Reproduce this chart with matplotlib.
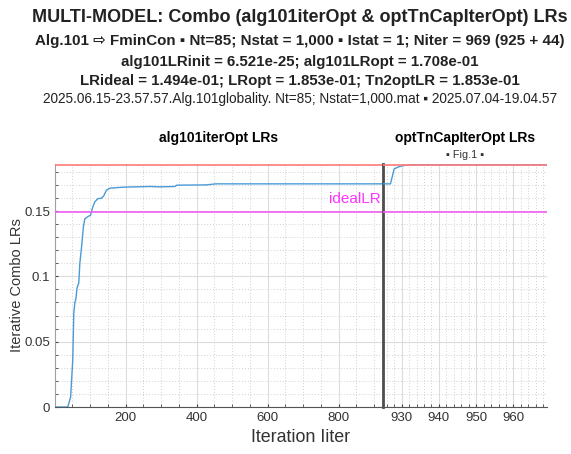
import matplotlib
matplotlib.use("Agg")
import matplotlib.pyplot as plt
from matplotlib.ticker import MultipleLocator

plt.rcParams['font.family'] = ['Liberation Sans', 'DejaVu Sans']

# combined LR trace, first optimiser (alg101iterOpt), iterations 1..925
iter_alg = [1, 37, 45, 51, 54, 57, 60, 63, 68, 71, 76, 81, 85, 95, 101, 107,
            113, 122, 132, 138, 146, 156, 179, 200, 268, 296, 339, 344, 428,
            447, 455, 925]
lr_alg = [6.521e-25, 6.521e-25, 0.0077, 0.036, 0.072, 0.080, 0.083, 0.091,
          0.095, 0.110, 0.123, 0.138, 0.144, 0.146, 0.1467, 0.1526, 0.157,
          0.1595, 0.1598, 0.1615, 0.166, 0.1675, 0.168, 0.1683, 0.1688,
          0.1685, 0.1688, 0.1698, 0.1700, 0.1706, 0.1708, 0.1708]

# second optimiser (optTnCapIterOpt), iterations 925..969
iter_tn = [925, 926, 927, 928, 929, 930, 931, 932, 969]
lr_tn = [0.1708, 0.1708, 0.1708, 0.1822, 0.1836, 0.1845, 0.1850, 0.1853, 0.1853]

lr_ideal = 1.494e-01
lr_opt = 1.853e-01
n_alg, n_tn = 925, 44

title_lines = [
    ("MULTI-MODEL: Combo (alg101iterOpt & optTnCapIterOpt) LRs", 13.0, "bold"),
    ("Alg.101 \u21e8 FminCon \u25aa Nt=85; Nstat = 1,000 \u25aa Istat = 1; Niter = 969 (925 + 44)", 10.9, "bold"),
    ("alg101LRinit = 6.521e-25; alg101LRopt = 1.708e-01", 10.8, "bold"),
    ("LRideal = 1.494e-01; LRopt = 1.853e-01; Tn2optLR = 1.853e-01", 10.8, "bold"),
    ("2025.06.15-23.57.57.Alg.101globality. Nt=85; Nstat=1,000.mat \u25aa 2025.07.04-19.04.57", 9.8, "normal"),
]
title_y = [18, 41, 62, 81.5, 98.5]

W, H = 571, 454
fig = plt.figure(figsize=(W / 100, H / 100), dpi=100)

x0, xs, x1 = 55, 383, 547
y_top, y_bot = 164, 407
ax1 = fig.add_axes([x0 / W, 1 - y_bot / H, (xs - x0) / W, (y_bot - y_top) / H])
ax2 = fig.add_axes([xs / W, 1 - y_bot / H, (x1 - xs) / W, (y_bot - y_top) / H],
                   sharey=ax1)

blue = '#4a9ad6'
ax1.plot(iter_alg, lr_alg, color=blue, lw=1.0, zorder=3)
ax2.plot(iter_tn, lr_tn, color=blue, lw=1.0, zorder=3)

for ax in (ax1, ax2):
    ax.axhline(lr_opt, color='#ff7a7a', lw=1.2, zorder=4)
    ax.axhline(lr_ideal, color='#f060f0', lw=1.2, zorder=4)
    ax.grid(which='major', color='#dcdcdc', lw=0.8, zorder=0)
    ax.grid(which='minor', color='#d0d0d0', lw=0.7, ls=(0, (1, 2)), zorder=0)
    ax.spines['top'].set_visible(False)
    ax.spines['right'].set_visible(False)
    ax.spines['bottom'].set_color('#555555')
    ax.tick_params(which='both', direction='in', colors='#444444',
                   labelcolor='#333333', labelsize=9.5, length=2.5)
    ax.set_axisbelow(True)

ax1.set_xlim(1, n_alg)
ax2.set_xlim(n_alg, n_alg + n_tn)
ax1.set_ylim(0, 0.186)

ax1.xaxis.set_major_locator(MultipleLocator(200))
ax1.xaxis.set_minor_locator(MultipleLocator(50))
ax2.xaxis.set_major_locator(MultipleLocator(10))
ax2.xaxis.set_minor_locator(MultipleLocator(2))
ax1.yaxis.set_major_locator(MultipleLocator(0.05))
ax1.yaxis.set_minor_locator(MultipleLocator(0.01))
ax1.set_yticks([0, 0.05, 0.1, 0.15])
ax1.set_yticklabels(['0', '0.05', '0.1', '0.15'])
ax1.set_xticks([200, 400, 600, 800])

ax1.spines['left'].set_color('#a0a0a0')
ax2.spines['left'].set_color('#4d4d4d')
ax2.spines['left'].set_linewidth(2.0)
ax2.tick_params(axis='y', which='both', left=False, labelleft=False)

ax1.set_ylabel('Iterative Combo LRs', fontsize=10.5, color='#333333')
ax1.yaxis.set_label_coords(-0.095, 0.5)
ax1.text(918, 0.159, 'idealLR', color='#ff33ff', fontsize=11,
         ha='right', va='center', zorder=5)

ax1.set_title('alg101iterOpt LRs', fontsize=10, fontweight='bold', pad=16)
ax2.set_title('optTnCapIterOpt LRs', fontsize=10, fontweight='bold', pad=16)
ax2.text(0.5, 1.015, '\u25aa Fig.1 \u25aa', transform=ax2.transAxes,
         ha='center', va='bottom', fontsize=7.8, color='#333333')

fig.text(301 / W, 1 - 437 / H, 'Iteration Iiter', fontsize=12.9,
         color='#333333', ha='center', va='center')

for (txt, size, weight), y in zip(title_lines, title_y):
    fig.text(300 / W, 1 - y / H, txt, fontsize=size, fontweight=weight,
             color='#222222', ha='center', va='center')

fig.savefig('out.png', dpi=100, facecolor='white')
